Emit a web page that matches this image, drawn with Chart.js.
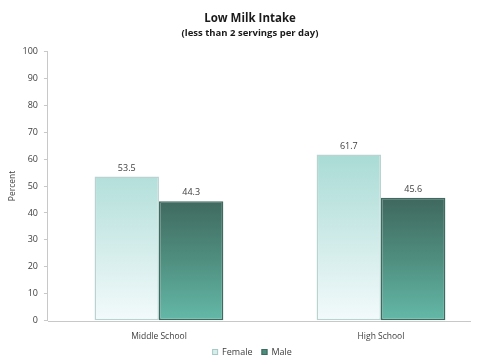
<!DOCTYPE html>
<html>
<head>
<meta charset="utf-8">
<script src="https://cdn.jsdelivr.net/npm/chart.js@4/dist/chart.umd.min.js"></script>
<style>
  html, body { margin: 0; padding: 0; background: #ffffff; overflow: hidden; }
  #wrap { width: 480px; height: 356px; position: relative; overflow: hidden; }
</style>
</head>
<body>
<div id="wrap"><canvas id="c" width="496" height="356"></canvas></div>
<script>
const categories = ['Middle School', 'High School'];
const femaleValues = [53.5, 61.7];
const maleValues = [44.3, 45.6];
const seriesNames = ['Female', 'Male'];
const yTicks = [0, 10, 20, 30, 40, 50, 60, 70, 80, 90, 100];

const FONT = "'Open Sans', 'Liberation Sans', sans-serif";
const TEXT = '#404040';
const legendSwatches = [
  { fill: '#d7efec', stroke: '#a9c9c5' },
  { fill: '#4c8d7e', stroke: '#3f6a60' }
];

// Writes each bar's value just above it
const valueLabels = {
  id: 'valueLabels',
  afterDatasetsDraw(chart) {
    const ctx = chart.ctx;
    ctx.save();
    ctx.font = '9px ' + FONT;
    ctx.fillStyle = TEXT;
    ctx.textAlign = 'center';
    ctx.textBaseline = 'bottom';
    chart.data.datasets.forEach((ds, i) => {
      chart.getDatasetMeta(i).data.forEach((bar, j) => {
        ctx.fillText(ds.data[j].toFixed(1), bar.x, bar.y - 4);
      });
    });
    ctx.restore();
  }
};

// Horizontal baseline under the bars, stopping short of the right edge
const baseline = {
  id: 'baseline',
  beforeDatasetsDraw(chart) {
    const a = chart.chartArea;
    const ctx = chart.ctx;
    ctx.save();
    ctx.strokeStyle = '#c8c8c8';
    ctx.lineWidth = 1;
    ctx.beginPath();
    ctx.moveTo(a.left, Math.round(a.bottom) + 0.5);
    ctx.lineTo(a.right - 21, Math.round(a.bottom) + 0.5);
    ctx.stroke();
    ctx.restore();
  }
};

// Compact legend row along the bottom edge
const bottomLegend = {
  id: 'bottomLegend',
  afterDraw(chart) {
    const ctx = chart.ctx;
    ctx.save();
    ctx.font = '9px ' + FONT;
    ctx.textBaseline = 'middle';
    ctx.textAlign = 'left';
    const box = 6, gapBox = 4, gapItem = 9;
    const widths = seriesNames.map(n => box + gapBox + ctx.measureText(n).width);
    const total = widths.reduce((s, w) => s + w, 0) + gapItem * (seriesNames.length - 1);
    let x = chart.width / 2 - total / 2 + 4;
    const y = chart.height - 4;
    seriesNames.forEach((n, i) => {
      ctx.fillStyle = legendSwatches[i].fill;
      ctx.strokeStyle = legendSwatches[i].stroke;
      ctx.lineWidth = 1;
      ctx.fillRect(x, y - box / 2, box, box);
      ctx.strokeRect(x + 0.5, y - box / 2 + 0.5, box - 1, box - 1);
      ctx.fillStyle = TEXT;
      ctx.fillText(n, x + box + gapBox, y);
      x += widths[i] + gapItem;
    });
    ctx.restore();
  }
};

new Chart(document.getElementById('c'), {
  type: 'bar',
  data: {
    labels: categories,
    datasets: [
      {
        label: seriesNames[0],
        data: femaleValues,
        backgroundColor: ctx => {
          const c = ctx.chart;
          if (!c.chartArea) return '#cdeae6';
          const g = c.ctx.createLinearGradient(0, c.scales.y.getPixelForValue(62), 0, c.chartArea.bottom);
          g.addColorStop(0, '#a9dbd5');
          g.addColorStop(1, '#f3fafb');
          return g;
        },
        borderColor: '#b9d3d0',
        borderWidth: 1.5,
        borderSkipped: false
      },
      {
        label: seriesNames[1],
        data: maleValues,
        backgroundColor: ctx => {
          const c = ctx.chart;
          if (!c.chartArea) return '#4f8f80';
          const g = c.ctx.createLinearGradient(0, c.scales.y.getPixelForValue(46), 0, c.chartArea.bottom);
          g.addColorStop(0, '#3f675d');
          g.addColorStop(0.5, '#4f8e7f');
          g.addColorStop(1, '#64b9a8');
          return g;
        },
        borderColor: '#3f6a60',
        borderWidth: 1.5,
        borderSkipped: false
      }
    ]
  },
  options: {
    responsive: false,
    animation: false,
    devicePixelRatio: 1,
    layout: { padding: { left: 8, right: 4, top: 0, bottom: 3 } },
    datasets: {
      bar: { categoryPercentage: 0.58, barPercentage: 1.0 }
    },
    plugins: {
      title: {
        display: true,
        text: 'Low Milk Intake',
        color: '#1a1a1a',
        font: { family: FONT, size: 11.5, weight: 'bold', lineHeight: 1.2 },
        padding: { top: 12, bottom: 2 }
      },
      subtitle: {
        display: true,
        text: '(less than 2 servings per day)',
        color: '#1a1a1a',
        font: { family: FONT, size: 9.5, weight: 'bold', lineHeight: 1.2 },
        padding: { top: 0, bottom: 12 }
      },
      legend: { display: false },
      tooltip: { enabled: false }
    },
    scales: {
      x: {
        grid: { display: false, drawTicks: false },
        border: { display: false },
        ticks: { color: TEXT, font: { family: FONT, size: 8.5 }, padding: 11 }
      },
      y: {
        min: 0,
        max: 100,
        afterBuildTicks: axis => { axis.ticks = yTicks.map(v => ({ value: v })); },
        grid: { display: true, drawOnChartArea: false, drawTicks: true, tickLength: 4, color: '#c8c8c8' },
        border: { display: true, color: '#c8c8c8', width: 1 },
        ticks: { color: TEXT, font: { family: FONT, size: 9 }, padding: 6 },
        title: {
          display: true,
          text: 'Percent',
          color: TEXT,
          font: { family: FONT, size: 8.5, lineHeight: 1 },
          padding: { top: 0, bottom: 0 }
        }
      }
    }
  },
  plugins: [valueLabels, baseline, bottomLegend]
});
</script>
</body>
</html>
